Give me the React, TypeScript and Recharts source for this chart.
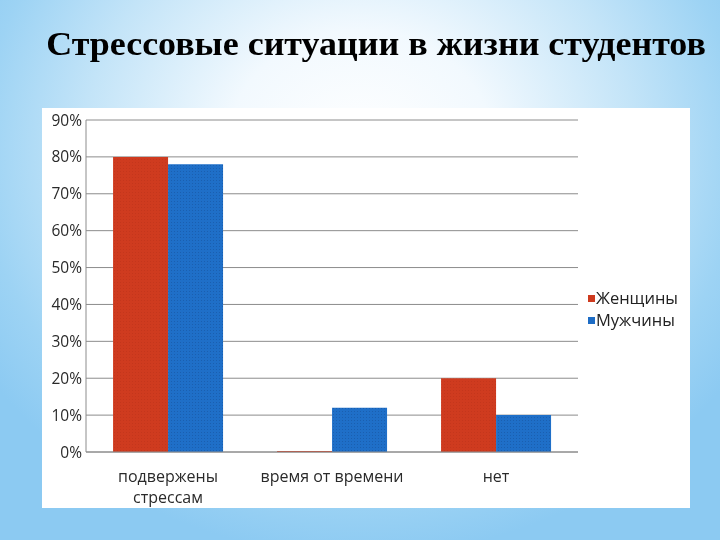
import React from 'react';
import { BarChart, Bar, XAxis, YAxis, CartesianGrid } from 'recharts';

const categories = ['подвержены\nстрессам', 'время от времени', 'нет'];
const women = [80, 0.3, 20];
const men = [78, 12, 10];
const yTicks = [0, 10, 20, 30, 40, 50, 60, 70, 80, 90];
const boundaryTicks = [0, 1, 2, 3];
const seriesNames = ['Женщины', 'Мужчины'];
const seriesColors = ['#CE3A1E', '#1D6CC5'];
const title = 'Стрессовые ситуации в жизни студентов';

const data = categories.map((c, i) => ({ name: c, women: women[i], men: men[i], pos: i + 0.5 }));

const FONT = '"Open Sans", "Noto Sans", sans-serif';

const CatTick = (props: any) => {
  const { x, y, payload } = props;
  const lines = String(payload.value).split('\n');
  return (
    <g>
      {lines.map((l, i) => (
        <text key={i} x={x} y={y + 22 + i * 21} textAnchor="middle" fontFamily={FONT} fontSize={16} fill="#2a2a2a">{l}</text>
      ))}
    </g>
  );
};

const LegendBox = () => (
  <div style={{ position: 'absolute', left: 588, top: 287, fontFamily: FONT, fontSize: 16.5, color: '#222', lineHeight: '22px' }}>
    {seriesNames.map((n, i) => (
      <div key={n} style={{ display: 'flex', alignItems: 'center' }}>
        <span style={{ display: 'inline-block', width: 7, height: 7, background: seriesColors[i], marginRight: 1 }} />
        <span>{n}</span>
      </div>
    ))}
  </div>
);

export default function App() {
  return (
    <div style={{ position: 'fixed', left: 0, top: 0, width: 720, height: 540, overflow: 'hidden',
      background: 'radial-gradient(ellipse 62% 75% at 50% 28%, #ffffff 0%, #f2f9fe 30%, #c3e4f8 62%, #9dd3f4 85%, #8ccaf2 100%)' }}>
      <div style={{ position: 'absolute', left: 0, top: 24, width: 752, textAlign: 'center',
        fontFamily: '"Liberation Serif", "Times New Roman", serif', fontWeight: 'bold', fontSize: 34, color: '#000', lineHeight: '40px', whiteSpace: 'nowrap',
        transform: 'scaleX(1.058)', transformOrigin: '376px 0' }}>
        {title}
      </div>
      <div style={{ position: 'absolute', left: 42, top: 108, width: 648, height: 400, background: '#fff' }}>
        <BarChart width={648} height={400} data={data} margin={{ top: 12, right: 112, bottom: 6, left: 0 }}
          barCategoryGap="16.5%" barGap={0}>
          <defs>
            <pattern id="blueDots" width="3" height="3" patternUnits="userSpaceOnUse">
              <rect width="3" height="3" fill="#1F6FC8" />
              <rect x="0" y="0" width="1" height="1" fill="#1A5FB0" />
            </pattern>
            <pattern id="redDots" width="3" height="3" patternUnits="userSpaceOnUse">
              <rect width="3" height="3" fill="#CF3B1F" />
              <rect x="0" y="0" width="1" height="1" fill="#C4361C" />
            </pattern>
          </defs>
          <CartesianGrid vertical={false} stroke="#8c8c8c" strokeWidth={1} />
          <XAxis xAxisId="b" type="number" dataKey="pos" domain={[0, 3]} ticks={boundaryTicks} height={0}
            axisLine={false} tickLine={{ stroke: '#8c8c8c' }} tickSize={5} tick={() => null} />
          <XAxis dataKey="name" interval={0} height={50} axisLine={{ stroke: '#8c8c8c' }} tickLine={false} tick={<CatTick />} />
          <YAxis width={44} domain={[0, 90]} ticks={yTicks} interval={0} tickFormatter={(v: number) => `${v}%`}
            axisLine={{ stroke: '#8c8c8c' }} tickLine={false} tickSize={0} tickMargin={4}
            tick={{ fontFamily: FONT, fontSize: 15.5, fill: '#2a2a2a' }} />
          <Bar dataKey="women" name={seriesNames[0]} fill="url(#redDots)" isAnimationActive={false} />
          <Bar dataKey="men" name={seriesNames[1]} fill="url(#blueDots)" isAnimationActive={false} />
        </BarChart>
      </div>
      <LegendBox />
    </div>
  );
}
